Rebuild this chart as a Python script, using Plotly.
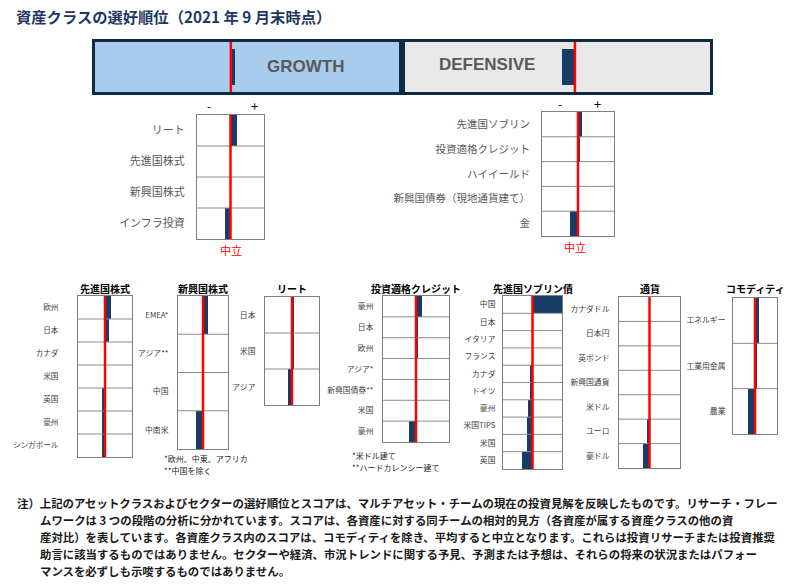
import plotly.graph_objects as go

W, H = 797, 588
JP = "Noto Sans CJK JP"
BAR = "#173d66"
NAVY = "#0e2a47"
GRID = "#8c8c8c"
RED = "#ff0000"

# ---------------- data ----------------
title_text = "資産クラスの選好順位（2021 年 9 月末時点）"

growth_score = [0.03]
defensive_score = [-0.096]

upper_growth_labels = ["リート", "先進国株式", "新興国株式", "インフラ投資"]
upper_growth_values = [0.18, 0.0, 0.0, -0.15]

upper_def_labels = ["先進国ソブリン", "投資適格クレジット", "ハイイールド", "新興国債券（現地通貨建て）", "金"]
upper_def_values = [0.11, 0.05, 0.0, 0.0, -0.22]

dm_eq_labels = ["欧州", "日本", "カナダ", "米国", "英国", "豪州", "シンガポール"]
dm_eq_values = [0.22, 0.15, 0.0, 0.0, -0.11, -0.11, -0.11]

em_eq_labels = ["EMEA*", "アジア**", "中国", "中南米"]
em_eq_values = [0.20, 0.04, 0.04, -0.28]

reit_labels = ["日本", "米国", "アジア"]
reit_values = [0.04, 0.04, -0.15]

ig_labels = ["豪州", "日本", "欧州", "アジア*", "新興国債券**", "米国", "豪州"]
ig_values = [0.18, 0.05, 0.05, 0.0, -0.03, -0.03, -0.21]

sov_labels = ["中国", "日本", "イタリア", "フランス", "カナダ", "ドイツ", "豪州", "米国TIPS", "米国", "英国"]
sov_values = [1.0, 0.0, 0.0, 0.0, -0.07, -0.07, -0.14, -0.20, -0.20, -0.34]

fx_labels = ["カナダドル", "日本円", "英ポンド", "新興国通貨", "米ドル", "ユーロ", "豪ドル"]
fx_values = [0.0, 0.0, 0.0, 0.0, 0.0, -0.07, -0.20]

cmd_labels = ["エネルギー", "工業用金属", "農業"]
cmd_values = [0.18, 0.09, -0.32]

note_lines = [
    "注）上記のアセットクラスおよびセクターの選好順位とスコアは、マルチアセット・チームの現在の投資見解を反映したものです。リサーチ・フレー",
    "ムワークは 3 つの段階の分析に分かれています。スコアは、各資産に対する同チームの相対的見方（各資産が属する資産クラスの他の資",
    "産対比）を表しています。各資産クラス内のスコアは、コモディティを除き、平均すると中立となります。これらは投資リサーチまたは投資推奨",
    "助言に該当するものではありません。セクターや経済、市況トレンドに関する予見、予測または予想は、それらの将来の状況またはパフォー",
    "マンスを必ずしも示唆するものではありません。",
]


def fx(p):
    return p / W


def fy(p):
    return 1 - p / H


# panel layout (pixel boxes)
panels = [
    dict(labels=None, values=growth_score, box=(95, 402, 42, 92), rng=[-1.0, 1.26], bw=0.72,
         fill="#a9ccee", frame=NAVY, fw=3),
    dict(labels=None, values=defensive_score, box=(402, 710, 42, 92), rng=[-1.28, 1.0], bw=0.72,
         fill="#e8e8e8", frame=NAVY, fw=3),
    dict(labels=upper_growth_labels, values=upper_growth_values, box=(197, 264, 115, 239), rng=[-1, 1],
         fs=11, col="#595959", so=9),
    dict(labels=upper_def_labels, values=upper_def_values, box=(542, 614, 112, 236), rng=[-1, 1],
         fs=10.5, col="#595959", so=9),
    dict(labels=dm_eq_labels, values=dm_eq_values, box=(78, 132, 296, 457), rng=[-1, 1],
         fs=7.6, col="#404040", so=17, title="先進国株式"),
    dict(labels=em_eq_labels, values=em_eq_values, box=(178, 228, 296, 449), rng=[-1, 1],
         fs=7.8, col="#404040", so=7, title="新興国株式"),
    dict(labels=reit_labels, values=reit_values, box=(265, 319, 297, 405), rng=[-1, 1],
         fs=7.8, col="#404040", so=7, title="リート"),
    dict(labels=ig_labels, values=ig_values, box=(383, 449, 296, 442), rng=[-1, 1],
         fs=7.8, col="#404040", so=7, title="投資適格クレジット"),
    dict(labels=sov_labels, values=sov_values, box=(503, 562, 296, 469), rng=[-1, 1],
         fs=7.8, col="#404040", so=5, title="先進国ソブリン債"),
    dict(labels=fx_labels, values=fx_values, box=(619, 680, 297, 468), rng=[-1, 1],
         fs=7.8, col="#404040", so=7, title="通貨"),
    dict(labels=cmd_labels, values=cmd_values, box=(733, 777, 298, 434), rng=[-1, 1],
         fs=7.8, col="#404040", so=5, title="コモディティ"),
]

fig = go.Figure()
shapes = []
annotations = []
layout_axes = {}

for i, p in enumerate(panels, start=1):
    xa = "x" if i == 1 else f"x{i}"
    ya = "y" if i == 1 else f"y{i}"
    xkey = "xaxis" if i == 1 else f"xaxis{i}"
    ykey = "yaxis" if i == 1 else f"yaxis{i}"
    x0, x1, y0, y1 = p["box"]
    n = len(p["values"])
    fig.add_trace(go.Bar(
        x=p["values"], y=list(range(n)), orientation="h", width=p.get("bw", 1.0),
        marker=dict(color=BAR, line=dict(width=0)), xaxis=xa, yaxis=ya,
        showlegend=False, hoverinfo="skip"))
    layout_axes[xkey] = dict(domain=[fx(x0), fx(x1)], range=p["rng"], anchor=ya,
                             showticklabels=False, showgrid=False, zeroline=False,
                             showline=True, mirror=True,
                             linecolor=p.get("frame", "#7f7f7f"), linewidth=p.get("fw", 1),
                             fixedrange=True, ticks="")
    yax = dict(domain=[fy(y1), fy(y0)], range=[n - 0.5, -0.5], anchor=xa,
               showgrid=False, zeroline=False, showline=True, mirror=True,
               linecolor=p.get("frame", "#7f7f7f"), linewidth=p.get("fw", 1),
               fixedrange=True, ticks="")
    if p["labels"]:
        yax.update(tickvals=list(range(n)), ticktext=p["labels"], showticklabels=True,
                   tickfont=dict(family=JP, size=p["fs"], color=p["col"]),
                   ticklabelstandoff=p["so"])
    else:
        yax.update(showticklabels=False)
    layout_axes[ykey] = yax

    if p.get("fill"):
        shapes.append(dict(type="rect", xref=f"{xa} domain", yref=f"{ya} domain",
                           x0=0, x1=1, y0=0, y1=1, fillcolor=p["fill"],
                           line=dict(width=0), layer="below"))
    for k in range(n - 1):
        shapes.append(dict(type="line", xref=f"{xa} domain", yref=ya, x0=0, x1=1,
                           y0=k + 0.5, y1=k + 0.5, line=dict(color=GRID, width=1)))
    shapes.append(dict(type="line", xref=xa, yref=f"{ya} domain", x0=0, x1=0, y0=0, y1=1,
                       line=dict(color=RED, width=2.5)))
    if p.get("title"):
        annotations.append(dict(x=fx((x0 + x1) / 2), y=fy(288), xref="paper", yref="paper",
                                text=f"<b>{p['title']}</b>", showarrow=False,
                                xanchor="center", yanchor="middle",
                                font=dict(family=JP, size=10, color="#000000")))


def ann(text, x, y, size, color, xanchor="left", bold=False, family=JP):
    t = f"<b>{text}</b>" if bold else text
    annotations.append(dict(x=fx(x), y=fy(y), xref="paper", yref="paper", text=t,
                            showarrow=False, xanchor=xanchor, yanchor="middle",
                            font=dict(family=family, size=size, color=color)))


ann(title_text, 14, 16, 15.3, "#1f3864", bold=True)
ann("GROWTH", 305, 67, 17, "#595959", xanchor="center", bold=True, family="Liberation Sans")
ann("DEFENSIVE", 487, 65, 17, "#595959", xanchor="center", bold=True, family="Liberation Sans")

ann("-", 209, 105, 12, "#000000", xanchor="center")
ann("+", 254, 105, 13, "#000000", xanchor="center")
ann("-", 560, 103, 12, "#000000", xanchor="center")
ann("+", 597, 103, 13, "#000000", xanchor="center")
ann("中立", 231, 250, 11, RED, xanchor="center")
ann("中立", 575, 247, 11, RED, xanchor="center")

ann("*欧州、中東、アフリカ", 162, 458, 8, "#262626")
ann("**中国を除く", 162, 471, 8, "#262626")
ann("*米ドル建て", 350, 455, 8, "#262626")
ann("**ハードカレンシー建て", 350, 467, 8, "#262626")

note_y = [503, 520, 537, 554, 571]
for j, (line, yy) in enumerate(zip(note_lines, note_y)):
    ann(line, 15 if j == 0 else 38, yy, 11.4, "#1a1a1a", bold=True)

fig.update_layout(
    width=W, height=H, margin=dict(l=0, r=0, t=0, b=0),
    paper_bgcolor="white", plot_bgcolor="white",
    shapes=shapes, annotations=annotations, bargap=0,
    **layout_axes,
)

fig.write_html("out.html")
